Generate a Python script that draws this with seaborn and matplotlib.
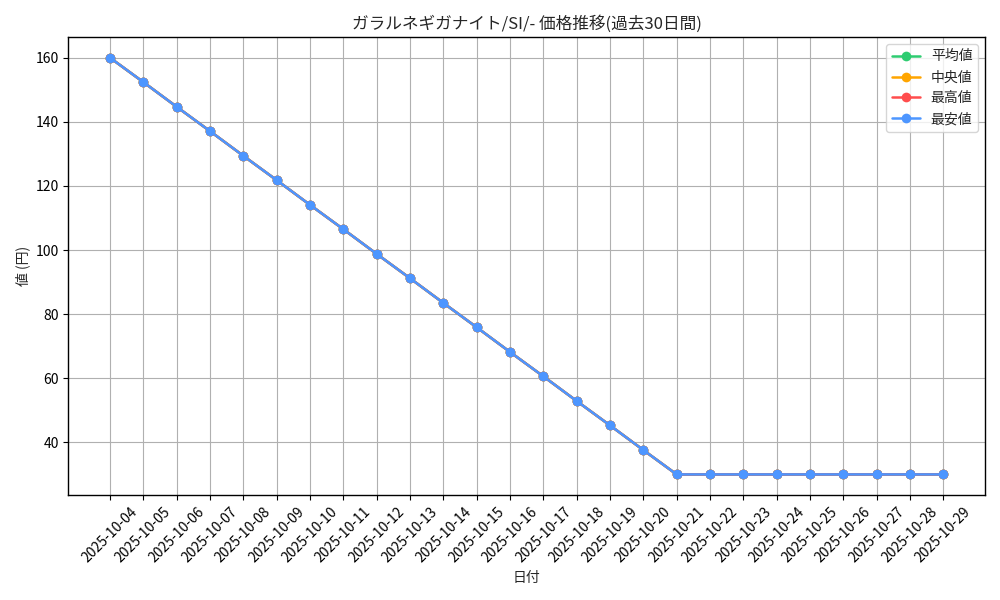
import pandas as pd
import matplotlib
matplotlib.use('Agg')
import matplotlib.pyplot as plt
import seaborn as sns

sns.set_style("ticks")
plt.rcParams['font.family'] = ['Noto Sans CJK JP', 'DejaVu Sans']

# data
dates = ['2025-10-04', '2025-10-05', '2025-10-06', '2025-10-07', '2025-10-08',
         '2025-10-09', '2025-10-10', '2025-10-11', '2025-10-12', '2025-10-13',
         '2025-10-14', '2025-10-15', '2025-10-16', '2025-10-17', '2025-10-18',
         '2025-10-19', '2025-10-20', '2025-10-21', '2025-10-22', '2025-10-23',
         '2025-10-24', '2025-10-25', '2025-10-26', '2025-10-27', '2025-10-28',
         '2025-10-29']
avg_price = [160, 152.4, 144.7, 137.1, 129.4, 121.8, 114.1, 106.5, 98.8, 91.2,
             83.5, 75.9, 68.2, 60.6, 52.9, 45.3, 37.6, 30, 30, 30,
             30, 30, 30, 30, 30, 30]
median_price = list(avg_price)
max_price = list(avg_price)
min_price = list(avg_price)

df = pd.DataFrame({'日付': dates, '平均値': avg_price, '中央値': median_price,
                   '最高値': max_price, '最安値': min_price})

series = [('平均値', '#2ecc71'), ('中央値', '#ffa500'),
          ('最高値', '#ff4d4d'), ('最安値', '#4d96ff')]

fig, ax = plt.subplots(figsize=(10, 6))
for name, color in series:
    sns.lineplot(data=df, x='日付', y=name, marker='o', color=color,
                 linewidth=1.8, markersize=7, markeredgewidth=0,
                 label=name, ax=ax, sort=False)

ax.set_title('ガラルネギガナイト/SI/- 価格推移(過去30日間)')
ax.set_xlabel('日付')
ax.set_ylabel('値 (円)')
ax.grid(True, color='#b0b0b0', linewidth=0.8)
for s in ax.spines.values():
    s.set_color('black')
    s.set_linewidth(1)
ax.tick_params(axis='both', colors='black', length=3.5, width=0.8)
plt.xticks(rotation=45)
ax.legend(loc='upper right')
plt.tight_layout()
plt.savefig('out.png', dpi=100)
